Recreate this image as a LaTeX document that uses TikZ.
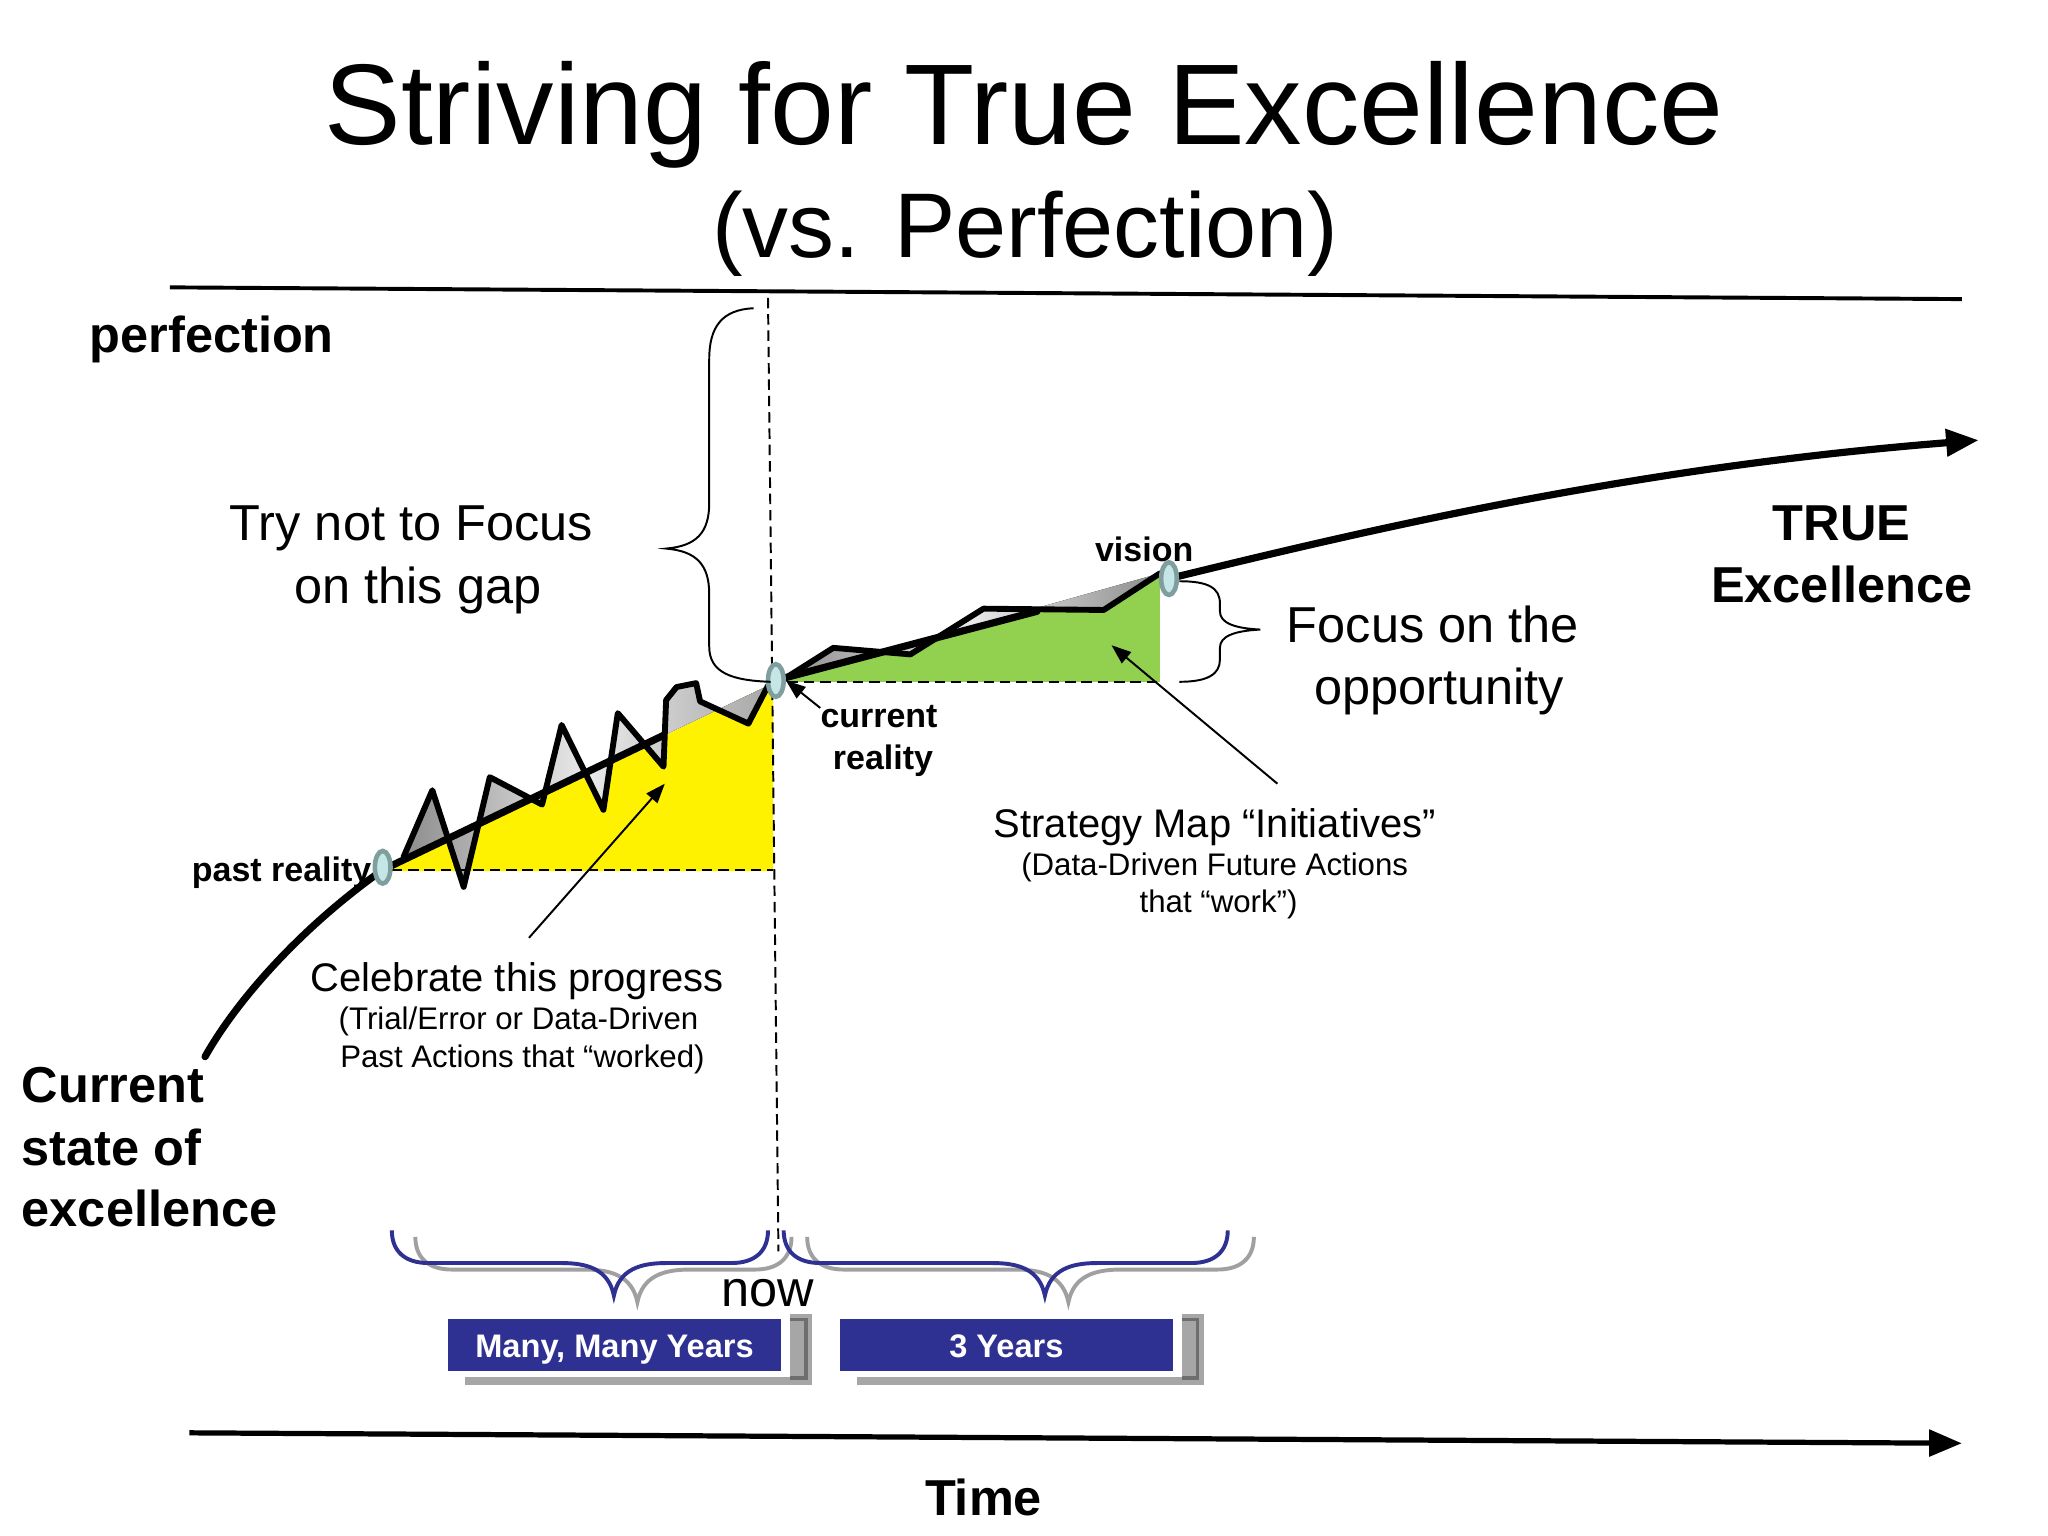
\documentclass[tikz,border=0pt]{standalone}
\usepackage{fontspec}
\setmainfont{Liberation Sans}
\usetikzlibrary{arrows.meta,shapes.geometric}
\definecolor{boxblue}{HTML}{2E3192}
\definecolor{ygreen}{HTML}{92D050}
\definecolor{ellfill}{HTML}{C4E6E6}
\definecolor{elldraw}{HTML}{809E9E}
\definecolor{shgray}{HTML}{A6A6A6}
\definecolor{shdark}{HTML}{6E6E6E}
\definecolor{brgray}{HTML}{A0A0A0}
\definecolor{zgdark}{HTML}{8C8C8C}
\definecolor{zglight}{HTML}{EAEAEA}
\definecolor{zgmid}{HTML}{A8A8A8}
\newcommand\myfs[1]{\fontsize{#1}{#1}\selectfont}
\newcommand\bbrace[4]{%
 \draw[#1] (#2,942) .. controls (#2,958) and ({#2+10},967) .. ({#2+28},967)
   -- ({#3-40},967) .. controls ({#3-20},967) and ({#3-4},972) .. (#3,992)
   .. controls ({#3+4},972) and ({#3+20},967) .. ({#3+40},967)
   -- ({#4-28},967) .. controls ({#4-10},967) and (#4,958) .. (#4,942);}
\begin{document}
\begin{tikzpicture}[x=0.1mm,y=-0.1mm,
  txt/.style={inner sep=0,anchor=base},
  mainline/.style={line width=0.55mm,line cap=round,line join=round},
  zigline/.style={line width=0.45mm,line join=round,line cap=round},
  dashline/.style={line width=0.15mm,dash pattern=on 0.8mm off 0.45mm},
  arr/.style={-{Triangle[length=1.5mm,width=1.1mm]},line width=0.15mm},
  thinbrace/.style={line width=0.15mm},
  bluebr/.style={boxblue,line width=0.3mm},
  graybr/.style={brgray,line width=0.3mm,shift={(0,5)}},
  ell/.style={ellipse,draw=elldraw,fill=ellfill,line width=0.35mm,minimum width=1.2mm,minimum height=2.5mm,inner sep=0},
  yrbox/.style={fill=boxblue,text=white,font=\myfs{7.1}\bfseries,minimum width=25.5mm,minimum height=4mm,inner sep=0,text height=5.1pt,text depth=0pt}]
\useasboundingbox (0,0) rectangle (1568,1176);

% title
\node[txt] (title) at (784,111) {\myfs{25}Striving for True Excellence};
\node[txt] (sub) at (785,197) {\myfs{20}(vs. Perfection)};

% perfection line
\coordinate (pl) at (130,220);
\coordinate (pr) at (1502,229);
\draw[line width=0.3mm] (pl) -- (pr);

% fills
\fill[yellow] (296,666) -- (592,523) -- (592,667) -- (296,667) -- cycle;
\fill[ygreen] (600,520) -- (888,440) -- (888,522) -- (600,522) -- cycle;
\fill[left color=zgdark,right color=zgmid,middle color=zglight]
  (309,656) -- (331,605) -- (355,679) -- (375,595) -- (415,616) -- (430,555)
  -- (462,620) -- (473,546) -- (508,587) -- (510,536) -- (518,526) -- (533,523)
  -- (536,537) -- (573,554) -- (588,525) -- (309,658) -- cycle;
\fill[left color=zgdark,right color=zgdark,middle color=zglight]
  (600,520) -- (638,496) -- (697,501) -- (753,466) -- (845,467) -- (888,439)
  -- (600,520) -- cycle;

% dashed lines
\coordinate (dtop) at (588,228);
\coordinate (dbot) at (596,958);
\draw[dashline] (dtop) -- (dbot);
\draw[dashline,line width=0.2mm] (300,666) -- (592,666);
\draw[dashline,line width=0.2mm] (603,522) -- (888,522);

% main curve
\draw[mainline] (157,809) .. controls (180,768) and (228,712) .. (293,666) -- (508,563);
\draw[mainline] (597,520) -- (794,468);
\draw[mainline,-{Triangle[length=2.5mm,width=2mm]}] (895,443) .. controls (1050,405) and (1250,358) .. (1515,337);

% zigzags
\draw[zigline] (309,656) -- (331,605) -- (355,679) -- (375,595) -- (415,616) -- (430,555)
  -- (462,620) -- (473,546) -- (508,587) -- (510,536) -- (518,526) -- (533,523)
  -- (536,537) -- (573,554) -- (588,525);
\draw[zigline] (600,520) -- (638,496) -- (697,501) -- (753,466) -- (845,467) -- (888,439);

% reality points
\node[ell] (past) at (293,664) {};
\node[ell] (cur) at (594,521) {};
\node[ell] (vis) at (895,443) {};

% braces
\draw[thinbrace] (577,236) .. controls (553,237) and (543,250) .. (543,275) -- (543,385)
  .. controls (543,408) and (533,418) .. (510,420) .. controls (533,422) and (543,432) .. (543,455)
  -- (543,495) .. controls (543,515) and (560,521) .. (590,522);
\draw[thinbrace] (903,445) .. controls (925,445) and (934,450) .. (934,462) -- (934,468)
  .. controls (934,477) and (945,481) .. (965,482) .. controls (945,483) and (934,487) .. (934,496)
  -- (934,505) .. controls (934,516) and (925,522) .. (903,522);

% texts
\node[txt,anchor=base west] (perf) at (68,270) {\myfs{11}\bfseries perfection};
\node[txt] (try1) at (315,414) {\myfs{11}Try not to Focus};
\node[txt] (try2) at (320,462) {\myfs{11}on this gap};
\node[txt] (foc1) at (1097,492) {\myfs{11}Focus on the};
\node[txt] (foc2) at (1102,539) {\myfs{11}opportunity};
\node[txt] (true1) at (1410,414) {\myfs{11}\bfseries TRUE};
\node[txt] (true2) at (1410,461) {\myfs{11}\bfseries Excellence};
\node[txt,anchor=base west] (cs1) at (16,844) {\myfs{11}\bfseries Current};
\node[txt,anchor=base west] (cs2) at (16,892) {\myfs{11}\bfseries state of};
\node[txt,anchor=base west] (cs3) at (16,939) {\myfs{11}\bfseries excellence};
\node[txt,anchor=base east] (pastlbl) at (285,675) {\myfs{7.4}\bfseries past reality};
\node[txt] (vislbl) at (876,430) {\myfs{7.4}\bfseries vision};
\node[txt] (cur1) at (673,557) {\myfs{7.4}\bfseries current};
\node[txt] (cur2) at (676,589) {\myfs{7.4}\bfseries reality};
\node[txt] (cel1) at (396,759) {\myfs{8.7}Celebrate this progress};
\node[txt] (cel2) at (397,788) {\myfs{6.8}(Trial/Error or Data-Driven};
\node[txt] (cel3) at (400,817) {\myfs{6.8}Past Actions that “worked)};
\node[txt] (str1) at (930,641) {\myfs{8.7}Strategy Map “Initiatives”};
\node[txt] (str2) at (930,670) {\myfs{6.8}(Data-Driven Future Actions};
\node[txt] (str3) at (933,699) {\myfs{6.8}that “work”)};
\node[txt] (now) at (588,1000) {\myfs{11}now};
\node[txt] (time) at (753,1160) {\myfs{11}\bfseries Time};

% pointer arrows
\coordinate (celtail) at (405,718);
\coordinate (celtip) at (509,600);
\draw[arr] (celtail) -- (celtip);
\coordinate (strtail) at (978,600);
\coordinate (strtip) at (851,494);
\draw[arr] (strtail) -- (strtip);
\coordinate (curtail) at (628,542);
\draw[arr] (curtail) -- (cur.east);

% bottom braces
\bbrace{graybr}{318}{488}{606}
\bbrace{bluebr}{300}{470}{588}
\bbrace{graybr}{618}{818}{960}
\bbrace{bluebr}{600}{800}{940}

% boxes with shadows
\fill[shgray] (356,1054) rectangle (622,1060);
\fill[shgray] (605,1006) rectangle (622,1060);
\draw[shdark,line width=0.25mm] (605,1010) -- (617,1010) -- (617,1055) -- (605,1055);
\node[yrbox] (many) at (470.5,1030) {Many, Many Years};
\fill[shgray] (656,1054) rectangle (922,1060);
\fill[shgray] (905,1006) rectangle (922,1060);
\draw[shdark,line width=0.25mm] (905,1010) -- (917,1010) -- (917,1055) -- (905,1055);
\node[yrbox] (three) at (770.5,1030) {3 Years};

% time axis
\coordinate (tl) at (145,1097);
\coordinate (tr) at (1502,1105);
\draw[line width=0.4mm,-{Triangle[length=2.5mm,width=2mm]}] (tl) -- (tr);
\end{tikzpicture}
\end{document}
